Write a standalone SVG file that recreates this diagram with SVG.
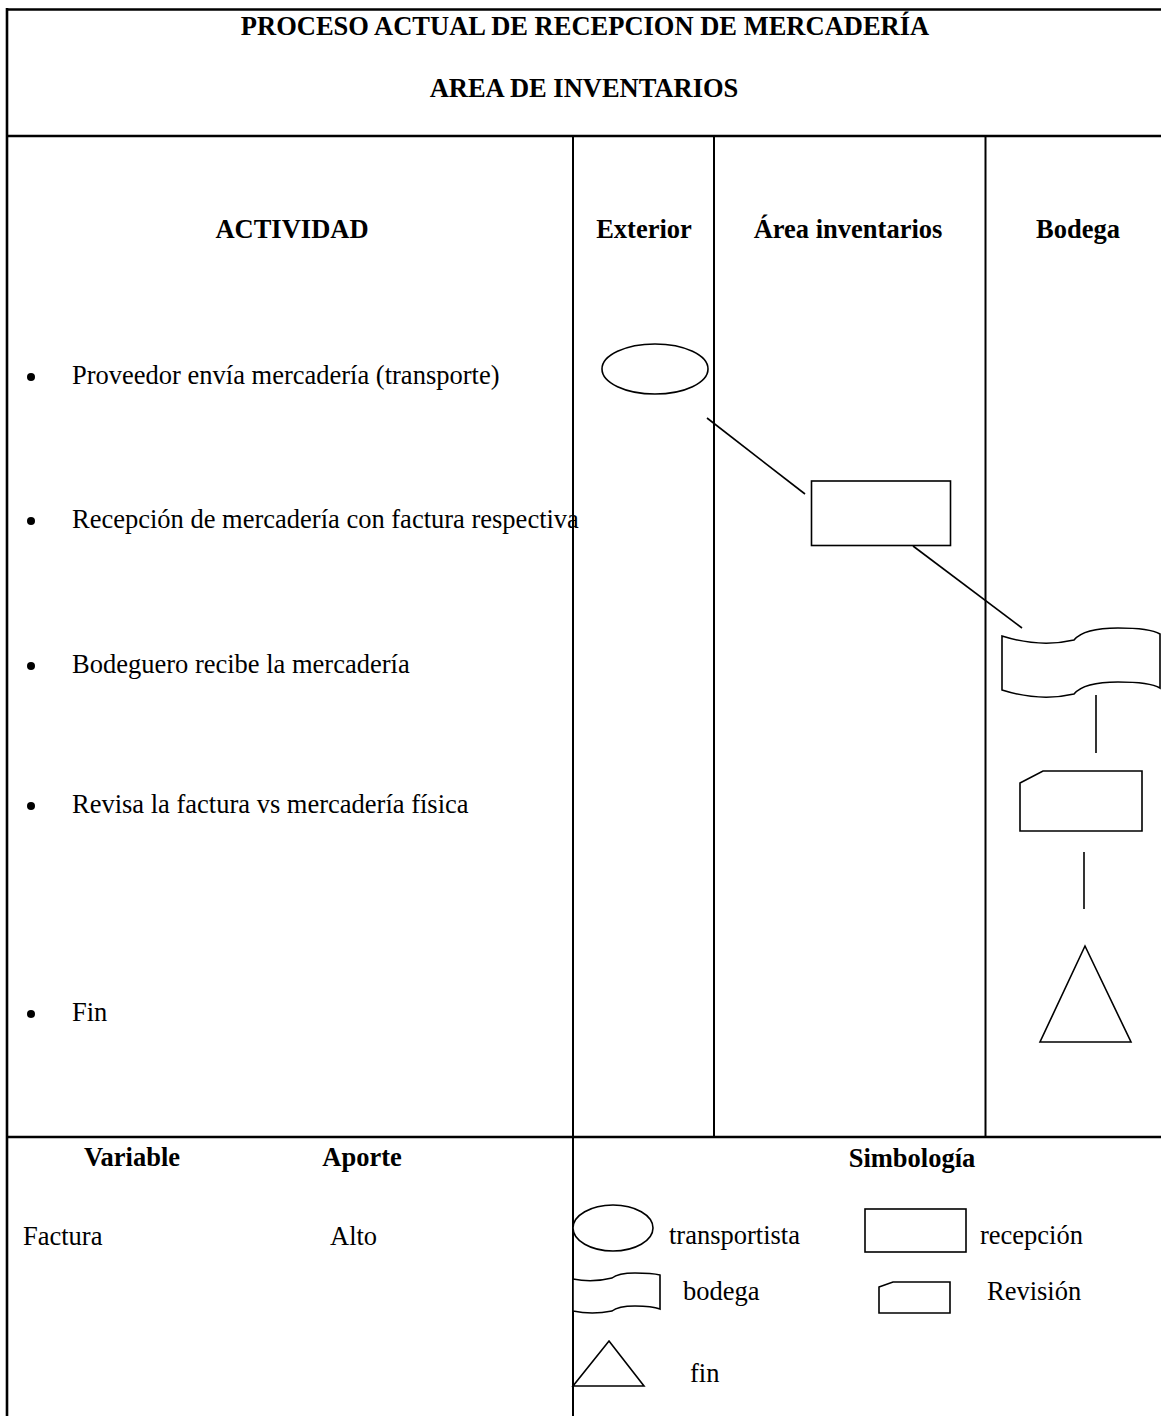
<svg xmlns="http://www.w3.org/2000/svg" width="1161" height="1416" viewBox="0 0 1161 1416">
<style>
text{font-family:"Liberation Serif","Times New Roman",serif;font-size:26.5px;fill:#000}
.b{font-weight:bold}
.m{text-anchor:middle}
.frame{stroke:#000;stroke-width:2.6;fill:none}
.lane{stroke:#000;stroke-width:2;fill:none}
.shape{stroke:#000;stroke-width:1.6;fill:#fff}
.conn{stroke:#000;stroke-width:1.6;fill:none}
</style>
<rect width="1161" height="1416" fill="#fff"/>
<g id="table">
<line class="frame" x1="7" y1="9.5" x2="1161" y2="9.5"/>
<line class="frame" x1="7" y1="8" x2="7" y2="1416"/>
<line class="frame" x1="7" y1="136" x2="1161" y2="136"/>
<line class="frame" x1="7" y1="1137" x2="1161" y2="1137"/>
<line class="lane" x1="573" y1="136" x2="573" y2="1416"/>
<line class="lane" x1="714" y1="136" x2="714" y2="1136"/>
<line class="lane" x1="985.5" y1="136" x2="985.5" y2="1136"/>
</g>
<g id="header">
<text class="b m" x="585" y="35">PROCESO ACTUAL DE RECEPCION DE MERCADERÍA</text>
<text class="b m" x="584" y="97">AREA DE INVENTARIOS</text>
<text class="b m" x="292" y="238">ACTIVIDAD</text>
<text class="b m" x="644" y="238">Exterior</text>
<text class="b m" x="848" y="238">Área inventarios</text>
<text class="b m" x="1078" y="238">Bodega</text>
</g>
<g id="activities">
<circle cx="31" cy="377" r="4"/><text x="72" y="384">Proveedor envía mercadería (transporte)</text>
<circle cx="31" cy="521" r="4"/><text x="72" y="528">Recepción de mercadería con factura respectiva</text>
<circle cx="31" cy="666" r="4"/><text x="72" y="673">Bodeguero recibe la mercadería</text>
<circle cx="31" cy="806" r="4"/><text x="72" y="813">Revisa la factura vs mercadería física</text>
<circle cx="31" cy="1014" r="4"/><text x="72" y="1021">Fin</text>
</g>
<g id="connectors">
<line class="conn" x1="707" y1="418" x2="805" y2="494"/>
<line class="conn" x1="913" y1="546" x2="1022" y2="628"/>
<line class="conn" x1="1096" y1="695" x2="1096" y2="753"/>
<line class="conn" x1="1084" y1="852" x2="1084" y2="909"/>
</g>
<g id="node-transportista"><ellipse class="shape" cx="655" cy="369" rx="53" ry="25"/></g>
<g id="node-recepcion"><rect class="shape" x="811.5" y="481" width="139" height="64.5"/></g>
<g id="node-bodega"><path class="shape" d="M1002,636 Q1040,648 1074,640 Q1084,628 1118,628 Q1150,628 1160,634 L1160,688 Q1150,682 1118,682 Q1084,682 1074,694 Q1040,702 1002,690 Z"/></g>
<g id="node-revision"><path class="shape" d="M1020,783 L1043,771 L1142,771 L1142,831 L1020,831 Z"/></g>
<g id="node-fin"><path class="shape" d="M1085,946 L1131,1042 L1040,1042 Z"/></g>
<g id="footer">
<text class="b m" x="132" y="1166">Variable</text>
<text class="b m" x="362" y="1166">Aporte</text>
<text class="b m" x="912" y="1167">Simbología</text>
<text x="23" y="1245">Factura</text>
<text x="330" y="1245">Alto</text>
</g>
<g id="legend">
<ellipse class="shape" cx="613" cy="1228" rx="40" ry="23"/>
<text x="669" y="1244">transportista</text>
<rect class="shape" x="865" y="1209" width="101" height="43"/>
<text x="980" y="1244">recepción</text>
<path class="shape" d="M573,1279 Q592,1283 612,1278 Q618,1273 635,1273 Q652,1273 660,1275 L660,1309 Q652,1306 635,1306 Q618,1306 612,1311 Q592,1315 573,1311 Z"/>
<text x="683" y="1300">bodega</text>
<path class="shape" d="M879,1287 L893,1282 L950,1282 L950,1313 L879,1313 Z"/>
<text x="987" y="1300">Revisión</text>
<path class="shape" d="M609,1341 L644,1386 L573,1386 Z"/>
<text x="690" y="1382">fin</text>
</g>
</svg>
